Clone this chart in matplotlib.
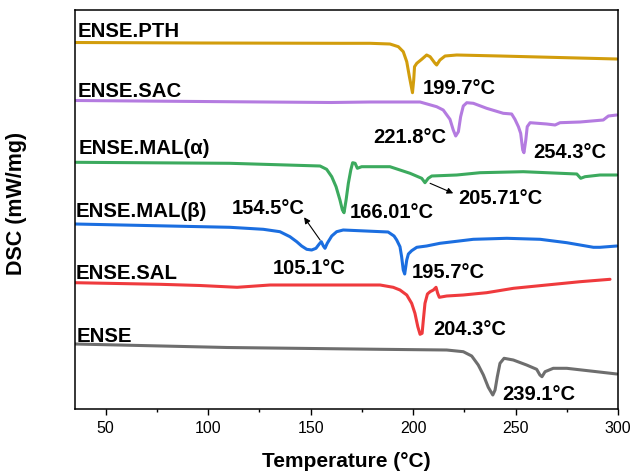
import matplotlib
matplotlib.use("Agg")
import matplotlib.pyplot as plt

plt.rcParams['font.family'] = ['Liberation Sans', 'DejaVu Sans']

# ---- data (temperature in °C, DSC signal in arbitrary offset units) ----
pth_T = [35, 96, 164.3, 179.0, 188.7, 192.8, 195.2, 196.9, 198.2, 199.7, 200.3, 200.7, 201.8, 204.2, 206.6,
         208.3, 210.7, 211.5, 213.1, 215.6, 221.3, 242.4, 299.5]
pth_y = [366.5, 366, 365.7, 365.7, 365, 362.3, 357.3, 347.3, 332.3, 316.3, 329, 342.3, 345.7, 349.7, 354,
         352.3, 345.7, 344, 349, 353, 354, 353, 350]

sac_T = [35, 96, 160, 179.0, 203.4, 211.5, 214.7, 218.0, 219.6, 220.8, 222.1, 223.2, 224.5, 226.2, 229.4,
         235.9, 244.0, 248.1, 249.7, 251.4, 252.5, 253.5, 254.1, 255.0, 255.7, 257.1, 265.2, 269.3, 271.7,
         281.5, 292.8, 295.3, 299.4]
sac_y = [308.5, 307.5, 306.5, 307, 307, 302.3, 299, 289.7, 279, 273, 277.3, 292.3, 303, 306.3, 305.7,
         300.7, 295.7, 295, 289.7, 282.3, 275.7, 259, 256.3, 269, 282.3, 286.3, 285, 284, 286.3,
         287, 289, 293, 294]

mala_T = [35.5, 110.6, 154.6, 157.8, 160.3, 162.4, 164.3, 165.5, 166.3, 167.3, 168.4, 169.6, 170.5, 171.7,
          172.8, 174.9, 180.6, 188.7, 198.5, 204.2, 205.8, 207.4, 209.1, 221.3, 232.7, 253.8, 279.9, 281.8,
          283.9, 291.2, 299.4]
mala_y = [246.7, 245.7, 243, 239.7, 232.3, 222.3, 209, 199, 196.3, 209, 225.7, 239, 246.3, 245.7,
          240.7, 242.3, 242.3, 242.3, 235.7, 230.7, 226.3, 230.7, 233, 234, 236.3, 237.3, 235, 230.7,
          232.3, 234, 234]

malb_T = [35, 110.6, 126.9, 135.0, 139.9, 143.2, 145.6, 148.1, 150.5, 152.6, 154.2, 155.2, 156.2, 157.0,
          158.1, 160.3, 162.7, 165.9, 187.8, 190.7, 192.0, 193.6, 194.4, 195.2, 195.9, 196.9, 197.7, 199.3,
          201.8, 206.6, 213.1, 229.4, 245.7, 262.0, 275.0, 288.0, 291.2, 299.4]
malb_y = [185, 181.7, 179.7, 177.3, 172.3, 167.3, 163, 159.7, 159, 160.7, 165, 167.3, 163, 160.7,
          165.7, 173, 177.3, 179, 177, 173, 169, 162.3, 152.3, 139, 135, 149, 155, 158.3,
          161.7, 163, 165.7, 169.7, 170.7, 169.7, 166.3, 161.7, 161.7, 163]

sal_T = [35, 76.5, 96, 114.1, 130.2, 174.1, 183.9, 190.3, 193.6, 196.9, 199.3, 200.9, 202.3, 203.4, 204.4,
         205.0, 205.8, 207.0, 208.3, 209.9, 211.2, 212.0, 212.8, 216.4, 224.5, 235.9, 249.0, 265.2, 281.5, 296.1]
sal_y = [126.3, 124.7, 123.5, 121.7, 124, 124, 124, 121.7, 119, 114, 105.7, 95.7, 82.3, 74.7, 75.7,
         89, 105.7, 115, 117.3, 119, 121.7, 115.7, 111.7, 113, 114, 116.3, 120.7, 124, 127.3, 129.7]

ense_T = [35, 109.2, 183.9, 216.4, 224.5, 228.6, 231.8, 234.3, 236.7, 238.9, 240.0, 241.1, 242.4, 244.4,
          248.9, 255.4, 260.3, 261.9, 262.9, 264.4, 268.4, 275.0, 289.6, 299.4]
ense_y = [65, 61.5, 59.7, 59, 57.3, 53, 44, 34, 21.7, 14, 19, 32.3, 45.7, 50.7,
          49, 44, 39.7, 34, 32.3, 37.3, 40.7, 40.7, 37.3, 35]

names = ["ENSE.PTH", "ENSE.SAC", "ENSE.MAL(α)", "ENSE.MAL(β)", "ENSE.SAL", "ENSE"]
colors = ['#D29D0C', '#B47BE0', '#3CAA5E', '#1B6EE0', '#EF3A3D', '#6E6E6E']
name_pos_T = [36.5, 36.5, 37, 35.5, 35.5, 36]
name_pos_y = [372, 311.7, 255, 192, 130, 67.3]

peak_labels = ["199.7°C", "221.8°C", "254.3°C", "166.01°C", "205.71°C", "154.5°C", "105.1°C", "195.7°C", "204.3°C", "239.1°C"]
peak_lab_T = [204.8, 180.4, 258.5, 169.2, 221.9, 111.6, 131.6, 199.5, 209.7, 243.4]
peak_lab_y = [315, 266.3, 251.3, 190.7, 205, 195, 134.7, 130.7, 74, 9]

xticks = [50, 100, 150, 200, 250, 300]
xminor = [75, 125, 175, 225, 275]

# ---- figure ----
fig = plt.figure(figsize=(6.33, 4.73), dpi=100)
ax = fig.add_axes([75/633, 1-409/473, 543/633, 399/473])

curves = [(pth_T, pth_y), (sac_T, sac_y), (mala_T, mala_y), (malb_T, malb_y), (sal_T, sal_y), (ense_T, ense_y)]
for (T, y), c in zip(curves, colors):
    ax.plot(T, y, color=c, lw=2.2, solid_joinstyle='round', solid_capstyle='round')

for n, tx, ty in zip(names, name_pos_T, name_pos_y):
    ax.text(tx, ty, n, fontsize=14.7, fontweight='bold', ha='left', va='baseline')

for s, tx, ty in zip(peak_labels, peak_lab_T, peak_lab_y):
    ax.text(tx, ty, s, fontsize=14.5, fontweight='bold', ha='left', va='baseline')

arrow_kw = dict(arrowstyle='-|>', lw=0.8, color='black', mutation_scale=9, shrinkA=0, shrinkB=0)
ax.annotate('', xy=(219.6, 215.7), xytext=(208.3, 225.7), arrowprops=arrow_kw)
ax.annotate('', xy=(146.8, 191.7), xytext=(154.6, 169), arrowprops=arrow_kw)

ax.set_xlim(35, 300)
ax.set_ylim(0, 399)
ax.set_xticks(xticks)
ax.set_xticks(xminor, minor=True)
ax.set_yticks([])
ax.tick_params(axis='x', which='major', direction='out', length=4, width=1, labelsize=11.5, pad=4.5)
ax.tick_params(axis='x', which='minor', direction='out', length=2.4, width=1)
for sp in ax.spines.values():
    sp.set_linewidth(1.1)

ax.set_xlabel('Temperature (°C)', fontsize=15, fontweight='bold', labelpad=12)
fig.text(17/633, 1-203.5/473, 'DSC (mW/mg)', rotation=90, fontsize=15.5, fontweight='bold', ha='center', va='center')

fig.savefig('out.png', dpi=100)
